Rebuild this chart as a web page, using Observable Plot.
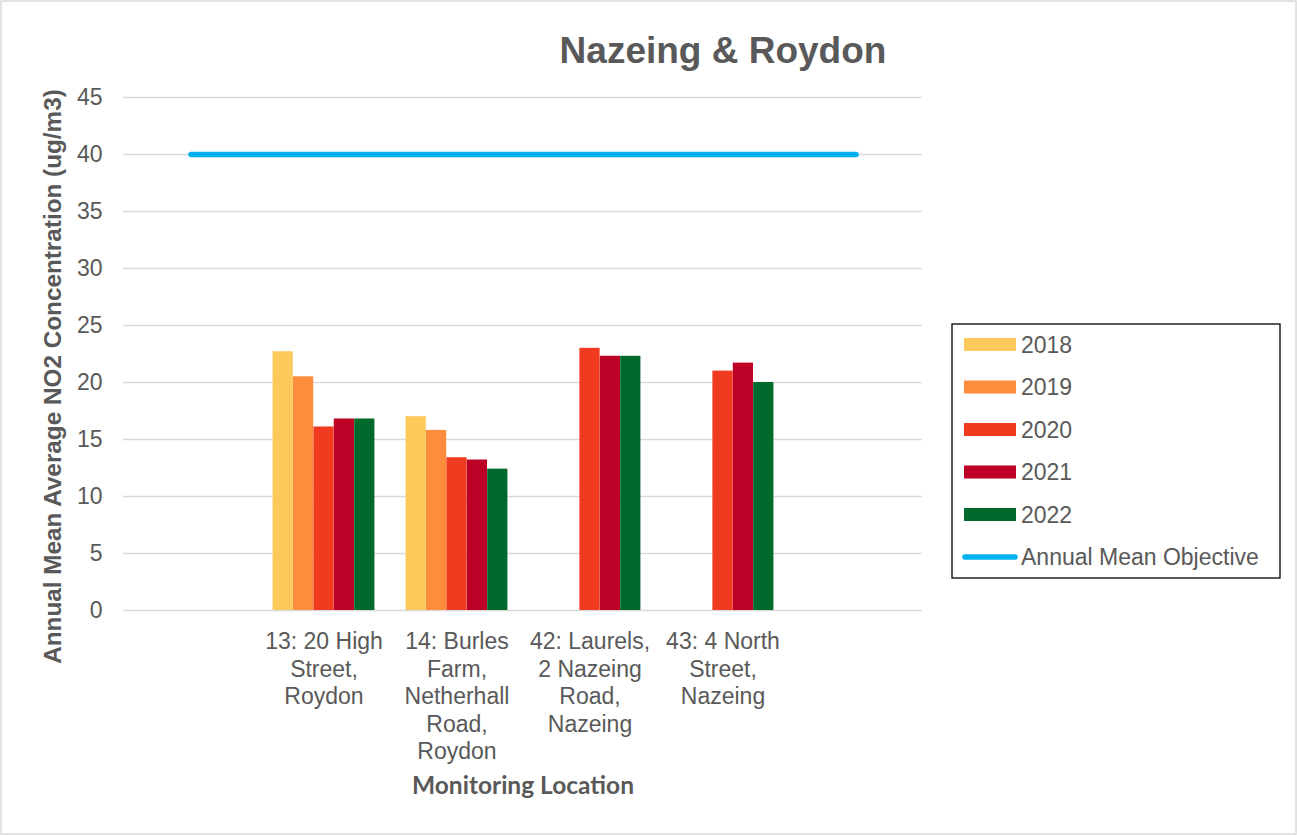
<!DOCTYPE html>
<html>
<head>
<meta charset="utf-8">
<script src="https://cdn.jsdelivr.net/npm/d3@7"></script>
<script src="https://cdn.jsdelivr.net/npm/@observablehq/plot@0.6"></script>
<style>
  html, body { margin: 0; padding: 0; background: #fff; }
  #chart { position: relative; width: 1297px; height: 835px; }
  #chart svg { position: absolute; left: 0; top: 0; overflow: visible; }
  #chart svg text { font-family: "Liberation Sans", Arial, sans-serif; }
  #chart svg text.xtitle { font-family: Lato, "Open Sans", sans-serif; }
</style>
</head>
<body>
<div id="chart"></div>
<script>
// ---- Data ----
const chartTitle = "Nazeing & Roydon";
const yTitle = "Annual Mean Average NO2 Concentration (ug/m3)";
const xTitle = "Monitoring Location";
const locations = ["", "13: 20 High Street, Roydon", "14: Burles Farm, Netherhall Road, Roydon", "42: Laurels, 2 Nazeing Road, Nazeing", "43: 4 North Street, Nazeing", " "];
const tickLabels = ["", "13: 20 High\nStreet,\nRoydon", "14: Burles\nFarm,\nNetherhall\nRoad,\nRoydon", "42: Laurels,\n2 Nazeing\nRoad,\nNazeing", "43: 4 North\nStreet,\nNazeing", ""];
const years = ["2018", "2019", "2020", "2021", "2022"];
const yearColors = ["#FEC95B", "#FD8D3C", "#F03B20", "#BD0026", "#00692B"];
const v2018 = [null, 22.7, 17.0, null, null, null];
const v2019 = [null, 20.5, 15.8, null, null, null];
const v2020 = [null, 16.1, 13.4, 23.0, 21.0, null];
const v2021 = [null, 16.8, 13.2, 22.3, 21.7, null];
const v2022 = [null, 16.8, 12.4, 22.3, 20.0, null];
const objectiveLabel = "Annual Mean Objective";
const objectiveValue = 40;
const objectiveColor = "#00B0F0";
const yTicks = [0, 5, 10, 15, 20, 25, 30, 35, 40, 45];

// ---- Build tables ----
const seriesValues = [v2018, v2019, v2020, v2021, v2022];
const rows = [];
years.forEach((yr, i) => {
  seriesValues[i].forEach((v, j) => {
    if (v != null) rows.push({location: locations[j], year: yr, value: v});
  });
});
const objectiveRows = [
  {location: locations[0], value: objectiveValue},
  {location: locations[locations.length - 1], value: objectiveValue}
];
const labelOf = new Map(locations.map((l, i) => [l, tickLabels[i]]));

// ---- Layout ----
const W = 1297, H = 835;
const mL = 123, mR = 375, mT = 97, mB = 225;
const band = (W - mL - mR) / locations.length;
const barW = 20.4;
const inset = (band - barW) / 2;
const font = "Liberation Sans, Arial, sans-serif";
const gray = "#595959";

const barMarks = years.map((yr, i) =>
  Plot.barY(rows.filter(d => d.year === yr), {
    x: "location", y: "value", fill: yearColors[i],
    insetLeft: inset, insetRight: inset, dx: (i - 2) * barW
  })
);

const svg = Plot.plot({
  width: W, height: H,
  marginLeft: mL, marginRight: mR, marginTop: mT, marginBottom: mB,
  style: {fontFamily: font, background: "transparent", color: gray},
  x: {domain: locations, padding: 0, label: null, axis: null},
  y: {domain: [0, 45], label: null, axis: null},
  marks: [
    Plot.gridY(yTicks, {stroke: "#d9d9d9", strokeOpacity: 1, strokeWidth: 1.3}),
    Plot.axisY(yTicks, {tickSize: 0, tickPadding: 21, fontSize: 23, fontFamily: font, fill: gray, label: null}),
    Plot.axisX({tickSize: 0, tickPadding: 19, fontSize: 23, fontFamily: font, fill: gray, lineHeight: 1.2,
      tickFormat: d => labelOf.get(d), label: null}),
    ...barMarks,
    Plot.lineY(objectiveRows, {x: "location", y: "value", stroke: objectiveColor, strokeWidth: 5.5, strokeLinecap: "round"})
  ]
});

const root = d3.select(svg);
// border
root.insert("rect", ":first-child")
  .attr("x", 1).attr("y", 1).attr("width", W - 2).attr("height", H - 2)
  .attr("fill", "#fff").attr("stroke", "#d9d9d9").attr("stroke-width", 1.5);

// title
root.append("text").text(chartTitle)
  .attr("x", 723).attr("y", 62.5).attr("text-anchor", "middle")
  .attr("font-weight", "bold").attr("font-size", 37).attr("fill", gray);

// y title
root.append("text").text(yTitle)
  .attr("transform", "translate(61,376.5) rotate(-90)").attr("text-anchor", "middle")
  .attr("font-weight", "bold").attr("font-size", 24.3).attr("fill", gray);

// x title
root.append("text").attr("class", "xtitle").text(xTitle)
  .attr("x", 523).attr("y", 794).attr("text-anchor", "middle")
  .attr("font-weight", "bold").attr("font-size", 24.5).attr("fill", gray);

// legend
const lg = root.append("g").attr("font-size", 23).attr("fill", gray).attr("text-anchor", "start");
lg.append("rect").attr("x", 952).attr("y", 324).attr("width", 328).attr("height", 254)
  .attr("fill", "#fff").attr("stroke", "#000").attr("stroke-width", 1.3);
const rowY = i => 344.5 + i * 42.5;
years.forEach((yr, i) => {
  lg.append("rect").attr("x", 964).attr("y", rowY(i) - 6.5).attr("width", 52).attr("height", 13).attr("fill", yearColors[i]);
  lg.append("text").attr("x", 1021).attr("y", rowY(i) + 8.3).attr("text-anchor", "start").text(yr);
});
const li = years.length;
lg.append("line").attr("x1", 965).attr("x2", 1015).attr("y1", rowY(li)).attr("y2", rowY(li))
  .attr("stroke", objectiveColor).attr("stroke-width", 5.5).attr("stroke-linecap", "round");
lg.append("text").attr("x", 1021).attr("y", rowY(li) + 8.3).attr("text-anchor", "start").text(objectiveLabel);

document.getElementById("chart").appendChild(svg);
</script>
</body>
</html>
